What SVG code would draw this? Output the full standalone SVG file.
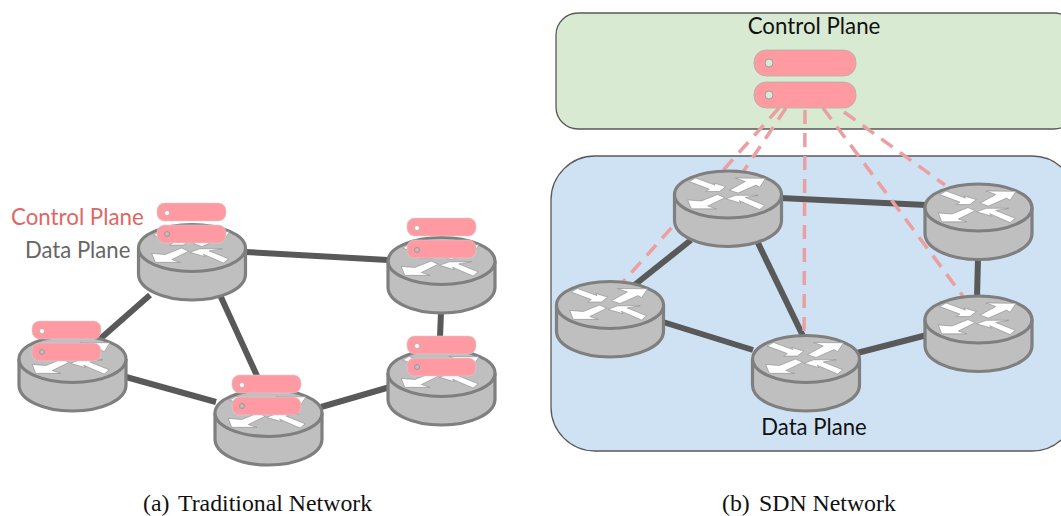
<svg xmlns="http://www.w3.org/2000/svg" width="1061" height="516" viewBox="0 0 1061 516">
<style>
.link{stroke:#595959;stroke-width:6;fill:none}
.dash{stroke:#eb9fa1;stroke-width:3.500;stroke-dasharray:14 9;fill:none}
.rb{fill:#bfbfbf;stroke:#7f7f7f;stroke-width:3.200}
.ar{fill:#fff;stroke:#8f8f8f;stroke-width:.6}
.pl{fill:#ff9aa2;stroke:#a9b8a0;stroke-width:.8}
.pls{fill:#ff9aa2;stroke:#d0d0d0;stroke-width:.6}
.dot{fill:#d9ead3;stroke:#8f8f8f;stroke-width:.8}
.dots{fill:#fff;stroke:#999;stroke-width:.5}
.dotg{fill:#bfbfbf;stroke:#888;stroke-width:.7}
.sans{font-family:"Lato","Open Sans","DejaVu Sans",sans-serif;font-size:22.300px}
.sansl{font-family:"Lato","Open Sans","DejaVu Sans",sans-serif;font-size:22.100px}
.cap{font-family:"Liberation Serif","Times New Roman",serif;font-size:23.800px;fill:#111}
</style>
<defs>
<g id="router">
<path class="rb" d="M-53.5 0V26C-53.5 41 -29 52 0 52S53.5 41 53.5 26V0"/>
<ellipse class="rb" cx="0" cy="0" rx="53.5" ry="23.5"/>
<g transform="scale(1.080)">
<polygon class="ar" points="-36,-12 -30,-15.300 -12,-8.700 -13.300,-10.700 -2,-7.300 -8,-2.700 -20.700,-2.700 -17.300,-5"/>
<polygon class="ar" points="1.300,-4 16,-12 7,-15.300 34.700,-15 29.300,-6.700 26,-8.700 9.300,-1.300"/>
<polygon class="ar" points="-37.300,5 -24.700,6 -9.700,0 -3,3 -18.700,10.700 -10.700,13.300 -34,13.300"/>
<polygon class="ar" points="-2,4 7.300,.7 28,.7 16,2.700 34,10 29.300,14 10.300,5.700 12,8"/>
</g>
</g>
<rect id="sm" class="pls" x="0" y="0" width="69" height="18" rx="7.500"/>
</defs>

<g id="connectors-a">
<line class="link" x1="245" y1="252" x2="388" y2="260"/>
<line class="link" x1="150" y1="295" x2="100" y2="339"/>
<line class="link" x1="220" y1="295" x2="258" y2="378"/>
<line class="link" x1="126" y1="377" x2="216" y2="402"/>
<line class="link" x1="321" y1="407" x2="390" y2="387"/>
<line class="link" x1="441" y1="312" x2="440" y2="337"/>
</g>

<g id="control-plane-box">
<rect x="556" y="13" width="520" height="116" rx="22" fill="#d9ead3" stroke="#595959" stroke-width="1.300"/>
</g>
<g id="data-plane-box">
<rect x="551" y="156" width="525" height="295" rx="44" fill="#cfe2f3" stroke="#595959" stroke-width="1.300"/>
</g>
<g id="connectors-b">
<line class="link" x1="780" y1="198" x2="926" y2="205"/>
<line class="link" x1="978" y1="258" x2="977" y2="298"/>
<line class="link" x1="691" y1="240" x2="632" y2="287"/>
<line class="link" x1="758" y1="243" x2="803" y2="336"/>
<line class="link" x1="663" y1="322" x2="753" y2="350"/>
<line class="link" x1="857" y1="353" x2="927" y2="335"/>
<line class="dash" x1="779" y1="108" x2="622" y2="283"/>
<line class="dash" x1="786" y1="108" x2="743" y2="172"/>
<line class="dash" x1="805" y1="110" x2="804" y2="336"/>
<line class="dash" x1="823" y1="108" x2="965" y2="299"/>
<line class="dash" x1="844" y1="112" x2="945" y2="185"/>
</g>

<g id="r-a1"><use href="#router" x="192" y="248"/></g>
<g id="r-a2"><use href="#router" x="441.500" y="261"/></g>
<g id="r-a3"><use href="#router" x="441.500" y="373"/></g>
<g id="r-a4"><use href="#router" x="268.500" y="413"/></g>
<g id="r-a5"><use href="#router" x="72.500" y="359"/></g>
<g id="r-b1"><use href="#router" x="728" y="194.500"/></g>
<g id="r-b2"><use href="#router" x="978.500" y="207.500"/></g>
<g id="r-b3"><use href="#router" x="978.500" y="319.500"/></g>
<g id="r-b4"><use href="#router" x="806" y="359"/></g>
<g id="r-b5"><use href="#router" x="610" y="305"/></g>

<g id="cp-servers">
<rect class="pl" x="754" y="50" width="102" height="26" rx="12"/><circle class="dot" cx="769" cy="63" r="4"/>
<rect class="pl" x="754" y="82" width="102" height="26" rx="12"/><circle class="dot" cx="769" cy="95" r="4"/>
</g>

<g id="s-a1"><use href="#sm" x="157" y="203"/><circle class="dots" cx="167" cy="213" r="2.500"/><use href="#sm" x="157" y="225"/><circle class="dotg" cx="167" cy="234" r="2.500"/></g>
<g id="s-a2"><use href="#sm" x="407" y="218"/><circle class="dots" cx="417" cy="228" r="2.500"/><use href="#sm" x="407" y="240"/><circle class="dotg" cx="417" cy="250" r="2.500"/></g>
<g id="s-a3"><use href="#sm" x="407" y="336"/><circle class="dots" cx="417" cy="346" r="2.500"/><use href="#sm" x="407" y="358"/><circle class="dotg" cx="417" cy="367" r="2.500"/></g>
<g id="s-a4"><use href="#sm" x="232" y="375"/><circle class="dots" cx="242" cy="385" r="2.500"/><use href="#sm" x="232" y="397"/><circle class="dotg" cx="242" cy="406" r="2.500"/></g>
<g id="s-a5"><use href="#sm" x="32" y="321"/><circle class="dots" cx="42" cy="331" r="2.500"/><use href="#sm" x="32" y="343"/><circle class="dotg" cx="42" cy="352" r="2.500"/></g>

<text class="sans" x="11" y="225" fill="#e06666">Control Plane</text>
<text class="sansl" x="25" y="258" fill="#666">Data Plane</text>
<text class="sans" x="814" y="34" fill="#111" text-anchor="middle">Control Plane</text>
<text class="sansl" x="814" y="435" fill="#111" text-anchor="middle">Data Plane</text>
<text class="cap" x="143" y="511">(a)<tspan x="178">Traditional Network</tspan></text>
<text class="cap" x="722" y="511">(b)<tspan x="759">SDN Network</tspan></text>
</svg>
